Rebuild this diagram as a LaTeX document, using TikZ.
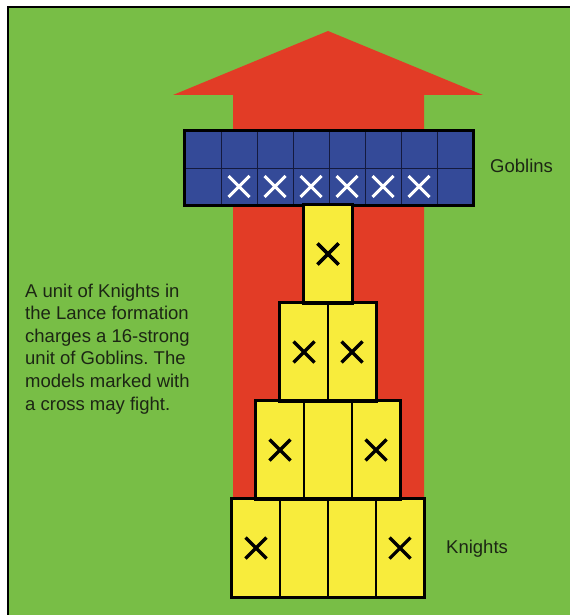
\documentclass[tikz,border=0pt]{standalone}
\usepackage{fontspec}
\setmainfont{Liberation Sans}
\usetikzlibrary{positioning}
\frenchspacing

\definecolor{fieldgreen}{RGB}{120,190,70}
\definecolor{arrowred}{RGB}{226,60,38}
\definecolor{goblinblue}{RGB}{52,74,152}
\definecolor{gridnavy}{RGB}{20,26,62}
\definecolor{knightyellow}{RGB}{248,236,60}
\definecolor{textdark}{RGB}{28,38,20}

\begin{document}
\begin{tikzpicture}[
    x=1pt, y=-1pt,
    every node/.style={font=\fontsize{18.5}{22.6}\selectfont, text=textdark},
    knight/.style={draw=black, line width=1.2pt, fill=knightyellow,
        minimum width=48pt, minimum height=98pt, inner sep=0pt},
    goblin/.style={draw=gridnavy, line width=1pt, fill=goblinblue,
        minimum width=36pt, minimum height=37pt, inner sep=0pt},
    rankline/.style={draw=black, line width=2.6pt},
    kcross/.style={draw=black, line width=3.2pt},
    gcross/.style={draw=white, line width=3pt}
]
\useasboundingbox (0,0) rectangle (570,615);

% --- Background ---
\fill[white] (0,0) rectangle (570,615);
\fill[fieldgreen] (8,7) rectangle (570,615);
\draw[black, line width=1.5pt] (8,615) -- (8,7) -- (570,7);

% --- Charge arrow ---
\fill[arrowred] (328,31) -- (483,95) -- (424,95) -- (424,499)
    -- (233,499) -- (233,95) -- (173,95) -- cycle;

% --- Goblins ---
\foreach \row in {1,2}
  \foreach \c in {1,...,8}
    \node[goblin] (g\row\c) at ({185+36*(\c-0.5)}, {131+37*(\row-0.5)}) {};
\draw[rankline] (g11.north west) rectangle (g28.south east);
\foreach \c in {2,...,7}
  \draw[gcross] (g2\c) ++(-10.5,-10.5) -- ++(21,21) ++(-21,0) -- ++(21,-21);

% --- Knights (Lance formation) ---
\foreach \r in {1,...,4}
  \foreach \i in {1,...,\r}
    \node[knight] (k\r\i) at ({328-24*\r+48*(\i-0.5)}, {254+98*(\r-1)}) {};
\foreach \r in {1,...,4}
  \draw[rankline] (k\r1.north west) rectangle (k\r\r.south east);
\foreach \r in {1,...,4}
  \foreach \i in {1,\r}
    \draw[kcross] (k\r\i) ++(-10.5,-10.5) -- ++(21,21) ++(-21,0) -- ++(21,-21);

% --- Labels ---
\node[anchor=base west, inner sep=0pt] (goblab) at (490,172) {Goblins};
\node[anchor=base west, inner sep=0pt] (knightlab) at (446,553) {Knights};
\node[anchor=north west, inner sep=0pt, align=left] (caption) at (25,283.5)
    {A unit of Knights in\\the Lance formation\\charges a 16-strong\\
     unit of Goblins. The\\models marked with\\a cross may fight.};

\end{tikzpicture}
\end{document}
